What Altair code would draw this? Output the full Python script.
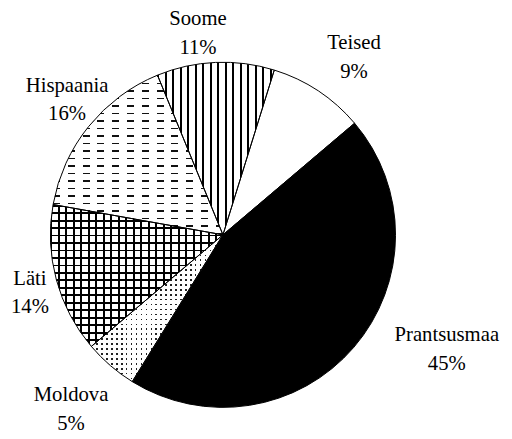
import math
import altair as alt
import pandas as pd

categories = ["Teised", "Prantsusmaa", "Moldova", "Läti", "Hispaania", "Soome"]
shares = [9, 45, 5, 14, 16, 11]
pct_labels = ["9%", "45%", "5%", "14%", "16%", "11%"]

df = pd.DataFrame({"cat": categories, "share": shares, "pct": pct_labels,
                   "ord": list(range(len(categories)))})

W, H = 503, 428
CX, CY = 218, 227
R = 175
A0 = 0.302
TAU = 2 * math.pi
theta_scale = alt.Scale(domain=[0, 100], range=[A0, A0 + TAU])

# label nudges (styling): dx, dy in pixels relative to the computed anchor
LABEL_NUDGE = {
    "Soome": (-16, 7),
    "Teised": (12, -4),
    "Prantsusmaa": (42, -21),
    "Moldova": (-8, 17),
    "Läti": (6, 4),
    "Hispaania": (24, -4),
}


def arc_bbox(t0, t1, r):
    pts = [(0.0, 0.0), (r * math.sin(t0), -r * math.cos(t0)), (r * math.sin(t1), -r * math.cos(t1))]
    for k in range(-4, 12):
        a = k * math.pi / 2
        if t0 < a < t1:
            pts.append((r * math.sin(a), -r * math.cos(a)))
    xs = [p[0] for p in pts]
    ys = [p[1] for p in pts]
    return max(xs) - min(xs), max(ys) - min(ys)


sizes = {}
acc = 0
for c, s in zip(categories, shares):
    t0 = A0 + acc / 100 * TAU
    t1 = A0 + (acc + s) / 100 * TAU
    sizes[c] = arc_bbox(t0, t1, R)
    acc += s


def stripes(axis, size, period, thick, color, bg, phase=0.0):
    stops = []
    pos = phase
    while pos < size:
        a = pos / size
        b = min((pos + thick) / size, 1.0)
        stops += [{"offset": a, "color": bg}, {"offset": a, "color": color},
                  {"offset": b, "color": color}, {"offset": b, "color": bg}]
        pos += period
    return {"gradient": "linear", "x1": 0, "y1": 0,
            "x2": 1 if axis == "x" else 0, "y2": 0 if axis == "x" else 1,
            "stops": stops}


CLEAR_K = "rgba(0,0,0,0)"
CLEAR_W = "rgba(255,255,255,0)"


def base():
    return alt.Chart(df).transform_window(
        cum="sum(share)", sort=[alt.SortField("ord")]
    ).transform_calculate(start="datum.cum - datum.share")


def enc(ch):
    return ch.encode(theta=alt.Theta("start:Q", scale=theta_scale),
                     theta2="cum:Q", x=alt.value(CX), y=alt.value(CY))


def slice_layer(cat, fill):
    return enc(base().transform_filter(alt.datum.cat == cat)
               .mark_arc(fill=fill, outerRadius=R, strokeWidth=0))


layers = []
layers.append(slice_layer("Teised", "white"))
layers.append(slice_layer("Prantsusmaa", "black"))
# Moldova: dots
w, h = sizes["Moldova"]
layers.append(slice_layer("Moldova", "white"))
layers.append(slice_layer("Moldova", stripes("y", h, 5.0, 1.6, "#222", CLEAR_K)))
layers.append(slice_layer("Moldova", stripes("x", w, 5.0, 3.4, "white", CLEAR_W, 1.6)))
# Läti: grid
w, h = sizes["Läti"]
layers.append(slice_layer("Läti", "white"))
layers.append(slice_layer("Läti", stripes("x", w, 7.6, 2.0, "black", CLEAR_K)))
layers.append(slice_layer("Läti", stripes("y", h, 7.6, 2.0, "black", CLEAR_K)))
# Hispaania: dashes
w, h = sizes["Hispaania"]
layers.append(slice_layer("Hispaania", "white"))
layers.append(slice_layer("Hispaania", stripes("y", h, 7.6, 1.6, "#111", CLEAR_K)))
layers.append(slice_layer("Hispaania", stripes("x", w, 15.0, 8.0, "white", CLEAR_W, 7.0)))
# Soome: vertical lines
w, h = sizes["Soome"]
layers.append(slice_layer("Soome", "white"))
layers.append(slice_layer("Soome", stripes("x", w, 7.6, 1.7, "black", CLEAR_K)))

# outlines
layers.append(enc(base().mark_arc(outerRadius=R, fill="white", fillOpacity=0,
                                  stroke="black", strokeWidth=1)))

for cat in categories:
    dx, dy = LABEL_NUDGE[cat]
    lab = base().transform_calculate(
        mid=f"{A0} + (datum.start + datum.share/2)/100*{TAU}"
    ).transform_calculate(
        hw="length(datum.cat)*5"
    ).transform_calculate(
        lx=f"{CX} + ({R}+14)*sin(datum.mid) + datum.hw*sin(datum.mid)",
        ly=f"{CY} - ({R}+14)*cos(datum.mid) - 22*cos(datum.mid)",
        txt="datum.cat + '\\n' + datum.pct",
    ).transform_filter(alt.datum.cat == cat).mark_text(
        font="Liberation Serif", fontSize=21, lineHeight=29, baseline="middle",
        align="center", color="black", lineBreak="\n", dx=dx, dy=dy - 14.5
    ).encode(
        x=alt.X("lx:Q", scale=None, axis=None),
        y=alt.Y("ly:Q", scale=None, axis=None),
        text="txt:N",
    )
    layers.append(lab)

chart = alt.layer(*layers).properties(
    width=W, height=H, padding=0, autosize=alt.AutoSizeParams(type="none"),
    background="white"
).configure_view(stroke=None)

chart.save("out.html", embed_options={"renderer": "svg", "actions": False})
